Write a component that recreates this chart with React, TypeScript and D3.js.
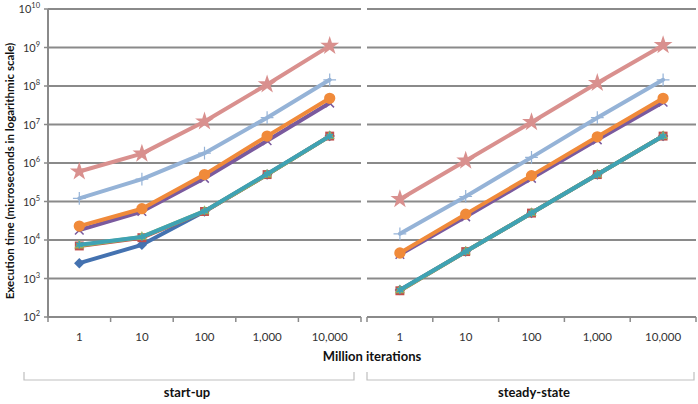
import React from "react";
import * as d3 from "d3";

const categories = ["1", "10", "100", "1,000", "10,000"];
const groups = ["start-up", "steady-state"];
const yExponents = [2, 3, 4, 5, 6, 7, 8, 9, 10];

// values in microseconds, [start-up, steady-state]
const blueValues = [
  [2500, 7500, 55000, 500000, 5000000],
  [500, 5000, 50000, 500000, 5000000],
];
const redValues = [
  [7000, 11500, 55000, 500000, 5000000],
  [480, 5000, 50000, 500000, 5000000],
];
const greenValues = [
  [7200, 12000, 56000, 500000, 5000000],
  [490, 5000, 50000, 500000, 5000000],
];
const purpleValues = [
  [18000, 55000, 400000, 3800000, 36000000],
  [4200, 40000, 400000, 4000000, 38000000],
];
const tealValues = [
  [7500, 12000, 56000, 520000, 5000000],
  [500, 5000, 50000, 500000, 5000000],
];
const orangeValues = [
  [23000, 65000, 500000, 5000000, 48000000],
  [4600, 47000, 470000, 4800000, 48000000],
];
const lightBlueValues = [
  [120000, 380000, 1800000, 15000000, 145000000],
  [14500, 135000, 1400000, 15000000, 145000000],
];
const pinkValues = [
  [600000, 1750000, 12000000, 110000000, 1100000000],
  [115000, 1150000, 11500000, 120000000, 1150000000],
];

const series = [
  { values: blueValues, color: "#4472B0", marker: "diamond" },
  { values: redValues, color: "#C0504D", marker: "square" },
  { values: greenValues, color: "#9BBB59", marker: "triangle" },
  { values: purpleValues, color: "#7A5A9E", marker: "x" },
  { values: tealValues, color: "#3FA2B4", marker: "asterisk" },
  { values: orangeValues, color: "#F08A3A", marker: "circle" },
  { values: lightBlueValues, color: "#95B3D7", marker: "plus" },
  { values: pinkValues, color: "#D9908E", marker: "star" },
];

const font = "Lato, 'Open Sans', sans-serif";
const gridColor = "#8a8a8a";

const panels = [
  { x0: 48, x1: 361 },
  { x0: 367, x1: 696 },
];

const y = d3.scaleLog().domain([1e2, 1e10]).range([317, 9]);

function Marker({ type, color, x, y: yy }) {
  const t = `translate(${x},${yy})`;
  if (type === "diamond") {
    const p = d3.symbol(d3.symbolSquare, 55)();
    return <path d={p} transform={`${t} rotate(45)`} fill={color} />;
  }
  if (type === "square") {
    const p = d3.symbol(d3.symbolSquare, 80)();
    return <path d={p} transform={t} fill={color} />;
  }
  if (type === "triangle") {
    const p = d3.symbol(d3.symbolTriangle, 45)();
    return <path d={p} transform={t} fill={color} opacity={0.85} />;
  }
  if (type === "x") {
    const p = d3.symbol(d3.symbolX, 50)();
    return <path d={p} transform={t} fill="none" stroke={color} strokeWidth={1.5} />;
  }
  if (type === "asterisk") {
    const p = d3.symbol(d3.symbolAsterisk, 40)();
    return <path d={p} transform={t} fill="none" stroke={color} strokeWidth={1.5} />;
  }
  if (type === "circle") {
    const p = d3.symbol(d3.symbolCircle, 100)();
    return <path d={p} transform={t} fill={color} />;
  }
  if (type === "plus") {
    const p = d3.symbol(d3.symbolPlus, 55)();
    return <path d={p} transform={t} fill="none" stroke={color} strokeWidth={1.2} />;
  }
  const p = d3.symbol(d3.symbolStar, 110)();
  return <path d={p} transform={t} fill={color} />;
}

export default function App() {
  const xScales = panels.map((p) =>
    d3.scaleBand().domain(categories).range([p.x0, p.x1])
  );
  const line = d3.line().curve(d3.curveLinear);

  return (
    <svg
      width={698}
      height={404}
      style={{ position: "absolute", left: 0, top: 0, background: "#fff" }}
      fontFamily={font}
    >
      {/* gridlines */}
      {panels.map((p, pi) => (
        <g key={pi}>
          {yExponents.map((e) => (
            <line
              key={e}
              x1={p.x0}
              x2={p.x1}
              y1={y(Math.pow(10, e))}
              y2={y(Math.pow(10, e))}
              stroke={gridColor}
              strokeWidth={2}
            />
          ))}
          {/* x ticks */}
          {d3.range(categories.length + 1).map((i) => {
            const xx = p.x0 + i * xScales[pi].step();
            return (
              <line key={i} x1={xx} x2={xx} y1={317} y2={322} stroke={gridColor} strokeWidth={1.5} />
            );
          })}
          {categories.map((c) => (
            <text
              key={c}
              x={xScales[pi](c)! + xScales[pi].bandwidth() / 2}
              y={341}
              textAnchor="middle"
              fontSize={11.5}
              fill="#333"
            >
              {c}
            </text>
          ))}
          {/* group bracket */}
          <path
            d={`M${pi === 0 ? 24 : p.x0},372V380H${pi === 0 ? 354 : 694}V372`}
            fill="none"
            stroke="#bfbfbf"
            strokeWidth={1.2}
          />
          <text
            x={pi === 0 ? 187 : 534}
            y={397}
            textAnchor="middle"
            fontSize={13}
            fontWeight="bold"
            fill="#111"
          >
            {groups[pi]}
          </text>
        </g>
      ))}

      {/* y axis */}
      <line x1={48} x2={48} y1={9} y2={318} stroke={gridColor} strokeWidth={2} />
      {yExponents.map((e) => (
        <g key={e}>
          <line x1={44} x2={48} y1={y(Math.pow(10, e))} y2={y(Math.pow(10, e))} stroke={gridColor} strokeWidth={1.5} />
          <text x={40} y={y(Math.pow(10, e)) + 4} textAnchor="end" fontSize={11} fill="#333">
            10
            <tspan dy={-5} fontSize={7.5}>
              {e}
            </tspan>
          </text>
        </g>
      ))}

      {/* series */}
      {series.map((s, si) => (
        <g key={si}>
          {panels.map((p, pi) => {
            const pts = s.values[pi].map((v, i) => [
              xScales[pi](categories[i])! + xScales[pi].bandwidth() / 2,
              y(v),
            ]) as [number, number][];
            return (
              <g key={pi}>
                <path
                  d={line(pts)!}
                  fill="none"
                  stroke={s.color}
                  strokeWidth={4}
                  strokeLinejoin="round"
                  strokeLinecap="round"
                />
                {pts.map((pt, i) => (
                  <Marker key={i} type={s.marker} color={s.color} x={pt[0]} y={pt[1]} />
                ))}
              </g>
            );
          })}
        </g>
      ))}

      {/* axis titles */}
      <text x={372} y={361} textAnchor="middle" fontSize={13} fontWeight="bold" fill="#111">
        Million iterations
      </text>
      <text
        transform="translate(14,171) rotate(-90)"
        textAnchor="middle"
        fontSize={11.5}
        fontWeight="bold"
        fill="#111"
      >
        Execution time (microseconds in logarithmic scale)
      </text>
    </svg>
  );
}
